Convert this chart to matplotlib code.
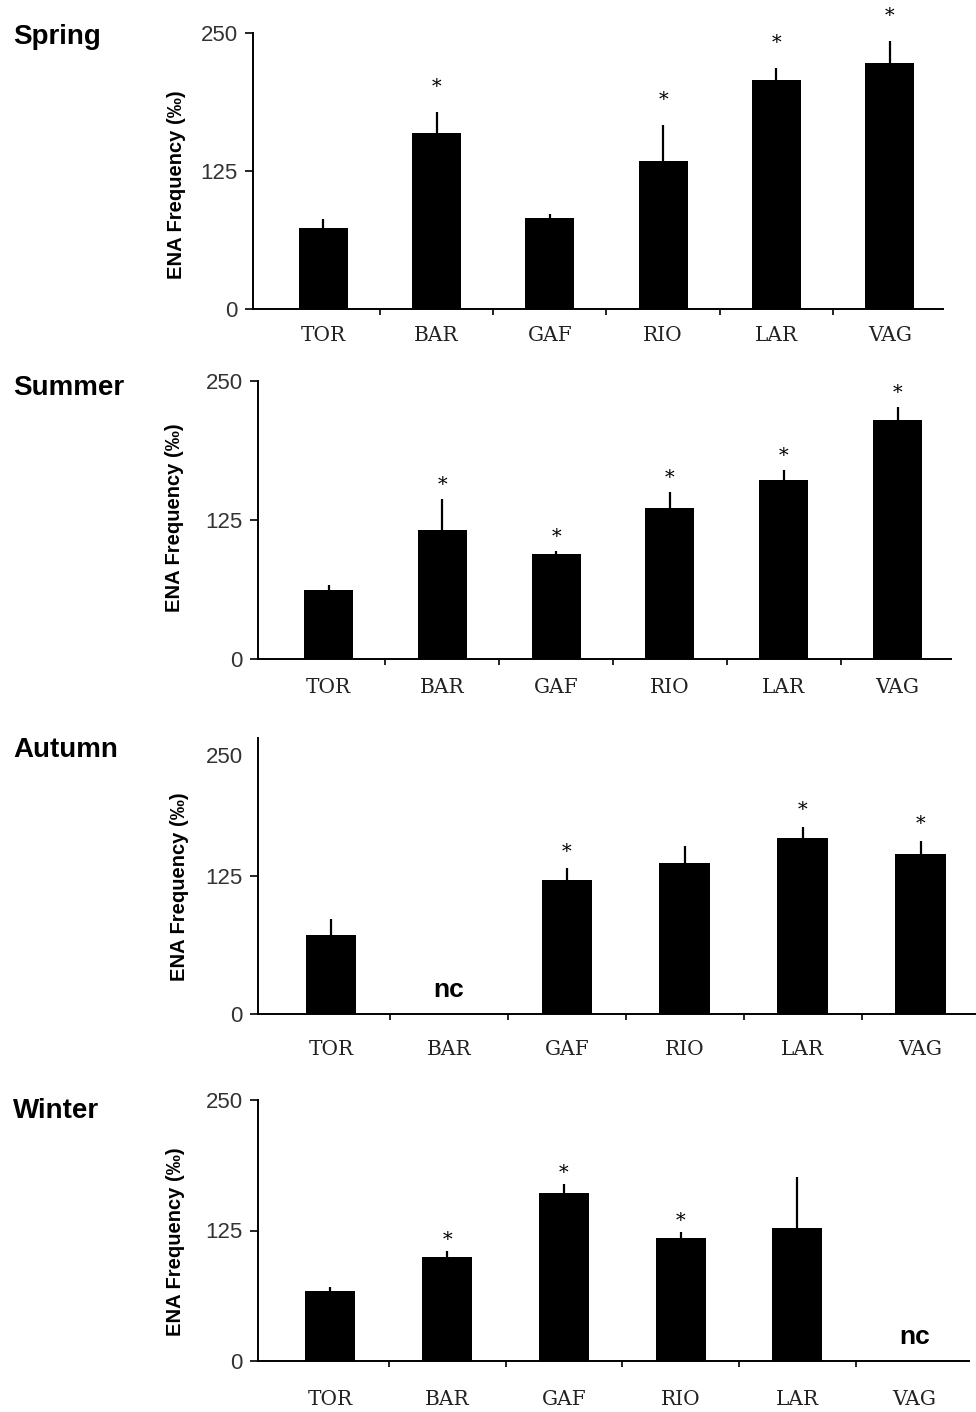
import matplotlib
matplotlib.use("Agg")
import matplotlib.pyplot as plt
import numpy as np

sites = ["TOR", "BAR", "GAF", "RIO", "LAR", "VAG"]
seasons = ["Spring", "Summer", "Autumn", "Winter"]

# mean ENA frequency (per mille), nan = not collected (nc)
spring_mean = [73.6, 159.1, 82.2, 134.1, 207.4, 223.1]
summer_mean = [62.0, 116.0, 94.4, 135.8, 161.0, 215.0]
autumn_mean = [71.6, np.nan, 121.4, 136.8, 159.4, 145.0]
winter_mean = [67.0, 99.3, 160.6, 117.5, 127.7, np.nan]

# upper error bar (SE)
spring_se = [7.6, 19.6, 3.6, 32.6, 10.6, 19.9]
summer_se = [4.5, 28.0, 2.6, 14.4, 9.0, 11.6]
autumn_se = [14.4, np.nan, 10.6, 15.2, 10.0, 11.7]
winter_se = [4.0, 6.4, 9.3, 6.4, 48.8, np.nan]

# significant difference marks (*)
spring_sig = [0, 1, 0, 1, 1, 1]
summer_sig = [0, 1, 1, 1, 1, 1]
autumn_sig = [0, 0, 1, 0, 1, 1]
winter_sig = [0, 1, 1, 1, 0, 0]

means = [spring_mean, summer_mean, autumn_mean, winter_mean]
ses = [spring_se, summer_se, autumn_se, winter_se]
sigs = [spring_sig, summer_sig, autumn_sig, winter_sig]

W, H = 976, 1412
# panel boxes in pixels: left, right, top(250), bottom(0)
boxes = [(253, 943, 33, 309), (258, 951, 381, 659), (258, 976, 738, 1014), (258, 969, 1100, 1361)]
title_y = [37, 388, 750, 1111]
star_off = [18, 10, 12, 8]
label_pad = [12, 14, 19, 21]
ylabel_pos = [(-0.097, 0.45), (-0.107, 0.507), (-0.096, 0.46), (-0.102, 0.456)]

fig = plt.figure(figsize=(W / 100, H / 100), dpi=100)

for k in range(4):
    l, r, t, b = boxes[k]
    ax = fig.add_axes([l / W, 1 - b / H, (r - l) / W, (b - t) / H])
    x = np.arange(len(sites))
    m = np.array(means[k], dtype=float)
    se = np.array(ses[k], dtype=float)
    ok = ~np.isnan(m)

    ax.bar(x[ok], m[ok], width=0.43, color="black", zorder=2)
    ax.errorbar(x[ok], m[ok], yerr=[np.zeros(ok.sum()), se[ok]], fmt="none",
                ecolor="black", elinewidth=1.6, capsize=0, zorder=1)

    for i in x:
        if not ok[i]:
            ax.annotate("nc", xy=(i, 0), xytext=(0, 17), textcoords="offset points",
                        ha="center", va="center", fontsize=19, fontweight="bold",
                        family="Liberation Sans")
        elif sigs[k][i]:
            ax.annotate("*", xy=(i, m[i] + se[i]), xytext=(0, star_off[k]),
                        textcoords="offset points", ha="center", va="center",
                        fontsize=14, family="DejaVu Serif")

    ax.set_xlim(-0.62, 5.47)
    ax.set_ylim(0, 250)
    ax.spines["top"].set_visible(False)
    ax.spines["right"].set_visible(False)
    ax.spines["left"].set_linewidth(1.4)
    ax.spines["bottom"].set_linewidth(1.4)

    ax.set_xticks(x)
    ax.set_xticklabels(sites, family="DejaVu Serif", fontsize=14.5, color="#222222")
    ax.set_xticks(x[:-1] + 0.5, minor=True)
    ax.tick_params(axis="x", which="major", length=0, pad=label_pad[k])
    ax.tick_params(axis="x", which="minor", direction="out", length=4, width=1.2)

    if k == 2:
        ax.set_yticks([0, 125])
        ax.annotate("250", xy=(0, 250), xycoords=("axes fraction", "data"),
                    xytext=(-11, -14), textcoords="offset points", ha="right",
                    va="center", fontsize=16, color="#333333", family="Liberation Sans")
    else:
        ax.set_yticks([0, 125, 250])
    ax.set_yticklabels([str(v) for v in ax.get_yticks().astype(int)],
                       family="Liberation Sans", fontsize=16, color="#333333")
    ax.tick_params(axis="y", direction="out", length=6, width=1.2, pad=5)

    ax.set_ylabel("ENA Frequency (‰)", family="Liberation Sans", fontweight="bold",
                  fontsize=14.5)
    ax.yaxis.set_label_coords(*ylabel_pos[k])

    fig.text(13 / W, 1 - title_y[k] / H, seasons[k], ha="left", va="center",
             fontsize=20, fontweight="bold", family="Liberation Sans")

fig.savefig("out.png", dpi=100)
